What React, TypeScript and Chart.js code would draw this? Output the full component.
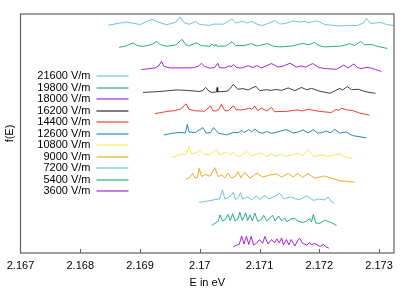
import { useEffect, useRef } from 'react';
import { Chart, registerables } from 'chart.js';

Chart.register(...registerables);

// ---- data (E in eV, f(E) relative to each curve's offset) ----
const fieldLabels = ['3600 V/m', '5400 V/m', '7200 V/m', '9000 V/m', '10800 V/m', '12600 V/m', '14400 V/m', '16200 V/m', '18000 V/m', '19800 V/m', '21600 V/m'];
const offsets = [0, 1, 2, 3, 4, 5, 6, 7, 8, 9, 10];
const lineColors = ['#9400d3', '#009e73', '#56b4e9', '#e69f00', '#f0e442', '#0072b2', '#e51e10', '#000000', '#9400d3', '#009e73', '#56b4e9'];
const xTicks = [2.167, 2.168, 2.169, 2.17, 2.171, 2.172, 2.173];
const xTickLabels = ['2.167', '2.168', '2.169', '2.17', '2.171', '2.172', '2.173'];

const e3600 = [2.17056, 2.17062, 2.17066, 2.17070, 2.17074, 2.17078, 2.17082, 2.17086, 2.17090, 2.17095, 2.17100, 2.17105, 2.17109, 2.17114, 2.17120, 2.17125, 2.17129, 2.17133, 2.17137, 2.17140, 2.17145, 2.17149, 2.17153, 2.17159, 2.17164, 2.17167, 2.17172, 2.17179, 2.17184, 2.17187, 2.17192, 2.17201, 2.17207, 2.17211, 2.17216];
const f3600 = [0.09, 0.18, 0.2, 0.58, 0.22, 0.56, 0.2, 0.56, 0.18, 0.25, 0.42, 0.25, 0.56, 0.22, 0.42, 0.27, 0.45, 0.27, 0.49, 0.18, 0.42, 0.18, 0.42, 0.13, 0.4, 0.48, 0.25, 0.18, 0.29, 0.18, 0.25, 0.11, 0.2, 0.09, 0.04];

const e5400 = [2.17020, 2.17027, 2.17031, 2.17034, 2.17038, 2.17043, 2.17047, 2.17051, 2.17055, 2.17059, 2.17064, 2.17067, 2.17071, 2.17077, 2.17080, 2.17084, 2.17088, 2.17092, 2.17097, 2.17102, 2.17107, 2.17112, 2.17117, 2.17122, 2.17126, 2.17132, 2.17137, 2.17142, 2.17146, 2.17152, 2.17159, 2.17164, 2.17172, 2.17179, 2.17184, 2.17187, 2.17190, 2.17194, 2.17201, 2.17209, 2.17216, 2.17220, 2.17229];
const f5400 = [0.05, 0.18, 0.25, 0.52, 0.25, 0.32, 0.54, 0.27, 0.57, 0.25, 0.34, 0.64, 0.27, 0.61, 0.27, 0.52, 0.25, 0.6, 0.23, 0.29, 0.5, 0.25, 0.38, 0.5, 0.25, 0.47, 0.25, 0.38, 0.21, 0.34, 0.36, 0.25, 0.18, 0.25, 0.36, 0.21, 0.54, 0.16, 0.14, 0.29, 0.21, 0.18, 0.05];

const e7200 = [2.16999, 2.17013, 2.17027, 2.17033, 2.17038, 2.17042, 2.17048, 2.17053, 2.17056, 2.17060, 2.17065, 2.17068, 2.17072, 2.17080, 2.17087, 2.17095, 2.17100, 2.17109, 2.17115, 2.17125, 2.17134, 2.17140, 2.17153, 2.17161, 2.17167, 2.17179, 2.17190, 2.17199, 2.17209, 2.17215, 2.17220, 2.17225];
const f7200 = [0.08, 0.14, 0.21, 0.23, 0.63, 0.23, 0.3, 0.41, 0.52, 0.19, 0.32, 0.51, 0.23, 0.32, 0.19, 0.37, 0.21, 0.39, 0.23, 0.34, 0.48, 0.25, 0.32, 0.23, 0.21, 0.37, 0.17, 0.23, 0.19, 0.32, 0.12, 0.04];

const e9000 = [2.16977, 2.16983, 2.16988, 2.16992, 2.16996, 2.16999, 2.17003, 2.17010, 2.17017, 2.17025, 2.17031, 2.17037, 2.17042, 2.17047, 2.17053, 2.17059, 2.17064, 2.17069, 2.17075, 2.17084, 2.17090, 2.17096, 2.17105, 2.17117, 2.17128, 2.17137, 2.17148, 2.17156, 2.17164, 2.17172, 2.17181, 2.17192, 2.17209, 2.17220, 2.17234, 2.17259];
const f9000 = [0.1, 0.19, 0.38, 0.17, 0.21, 0.6, 0.23, 0.33, 0.24, 0.63, 0.23, 0.3, 0.17, 0.38, 0.17, 0.24, 0.45, 0.17, 0.42, 0.16, 0.28, 0.39, 0.21, 0.3, 0.35, 0.21, 0.38, 0.21, 0.38, 0.19, 0.37, 0.16, 0.26, 0.16, 0.05, -0.02];

const e10800 = [2.16953, 2.16967, 2.16977, 2.16982, 2.16986, 2.16993, 2.17000, 2.17006, 2.17017, 2.17028, 2.17033, 2.17045, 2.17050, 2.17056, 2.17062, 2.17067, 2.17078, 2.17087, 2.17094, 2.17103, 2.17112, 2.17120, 2.17127, 2.17137, 2.17144, 2.17164, 2.17172, 2.17181, 2.17190, 2.17206, 2.17214, 2.17234, 2.17245, 2.17256];
const f10800 = [0.08, 0.22, 0.24, 0.58, 0.23, 0.29, 0.4, 0.23, 0.2, 0.46, 0.2, 0.33, 0.2, 0.31, 0.17, 0.13, 0.35, 0.17, 0.22, 0.29, 0.13, 0.24, 0.15, 0.22, 0.13, 0.27, 0.17, 0.44, 0.13, 0.2, 0.13, 0.24, 0.09, 0.05];

const e12600 = [2.16940, 2.16953, 2.16967, 2.16976, 2.16979, 2.16982, 2.16993, 2.17005, 2.17011, 2.17018, 2.17023, 2.17031, 2.17045, 2.17056, 2.17065, 2.17070, 2.17074, 2.17082, 2.17087, 2.17092, 2.17099, 2.17106, 2.17112, 2.17120, 2.17145, 2.17156, 2.17164, 2.17173, 2.17181, 2.17190, 2.17197, 2.17204, 2.17212, 2.17218, 2.17226, 2.17234, 2.17245, 2.17256, 2.17279];
const f12600 = [0.09, 0.16, 0.2, 0.18, 0.56, 0.22, 0.2, 0.42, 0.17, 0.2, 0.42, 0.17, 0.09, 0.2, 0.2, 0.29, 0.2, 0.33, 0.22, 0.36, 0.2, 0.17, 0.25, 0.16, 0.33, 0.18, 0.22, 0.31, 0.18, 0.33, 0.18, 0.19, 0.27, 0.18, 0.34, 0.18, 0.22, 0.06, -0.04];

const e14400 = [2.16925, 2.16941, 2.16958, 2.16968, 2.16977, 2.16982, 2.16992, 2.17008, 2.17018, 2.17022, 2.17027, 2.17032, 2.17036, 2.17042, 2.17048, 2.17054, 2.17057, 2.17061, 2.17072, 2.17084, 2.17087, 2.17092, 2.17097, 2.17103, 2.17112, 2.17120, 2.17125, 2.17145, 2.17164, 2.17172, 2.17181, 2.17198, 2.17220, 2.17228, 2.17233, 2.17237, 2.17245, 2.17256, 2.17268, 2.17284];
const f14400 = [0.04, 0.12, 0.18, 0.25, 0.48, 0.23, 0.17, 0.15, 0.38, 0.18, 0.16, 0.23, 0.46, 0.17, 0.18, 0.34, 0.38, 0.21, 0.21, 0.29, 0.23, 0.38, 0.17, 0.29, 0.16, 0.32, 0.13, 0.14, 0.21, 0.16, 0.24, 0.15, 0.09, 0.23, 0.18, 0.29, 0.21, 0.18, 0.06, -0.02];

const e16200 = [2.16905, 2.16933, 2.16961, 2.16978, 2.17000, 2.17005, 2.17010, 2.17015, 2.17020, 2.17028, 2.17029, 2.17030, 2.17047, 2.17056, 2.17064, 2.17072, 2.17081, 2.17086, 2.17094, 2.17100, 2.17112, 2.17119, 2.17128, 2.17137, 2.17148, 2.17159, 2.17170, 2.17179, 2.17187, 2.17201, 2.17218, 2.17234, 2.17239, 2.17247, 2.17254, 2.17265, 2.17279, 2.17294];
const f16200 = [-0.01, 0.03, 0.1, 0.08, 0.03, 0.08, 0.21, 0.05, -0.01, 0.01, 0.21, 0.01, 0.05, 0.34, 0.13, 0.16, 0.1, 0.17, 0.26, 0.07, 0.11, 0.08, 0.12, 0.08, 0.19, 0.07, 0.21, 0.11, 0.17, 0.04, -0.05, 0.17, 0.1, 0.25, 0.11, 0.13, 0.01, -0.05];

const e18000 = [2.16902, 2.16925, 2.16931, 2.16936, 2.16940, 2.16950, 2.16989, 2.16998, 2.17003, 2.17008, 2.17017, 2.17025, 2.17030, 2.17033, 2.17042, 2.17049, 2.17052, 2.17056, 2.17062, 2.17070, 2.17081, 2.17089, 2.17096, 2.17103, 2.17120, 2.17131, 2.17140, 2.17151, 2.17162, 2.17170, 2.17177, 2.17189, 2.17199, 2.17212, 2.17229, 2.17241, 2.17248, 2.17258, 2.17264, 2.17270, 2.17279, 2.17286, 2.17294, 2.17304];
const f18000 = [0.01, 0.08, 0.17, 0.37, 0.15, 0.08, 0.09, 0.17, 0.29, 0.15, 0.07, 0.10, 0.29, 0.1, 0.08, 0.18, 0.12, 0.23, 0.1, 0.08, 0.18, 0.1, 0.19, 0.08, 0.28, 0.12, 0.17, 0.29, 0.12, 0.17, 0.12, 0.28, 0.1, 0.05, 0.02, 0.21, 0.08, 0.26, 0.1, 0.05, 0.11, 0.08, 0.01, -0.07];

const e19800 = [2.16865, 2.16876, 2.16888, 2.16896, 2.16905, 2.16920, 2.16928, 2.16933, 2.16944, 2.16960, 2.16970, 2.16977, 2.16983, 2.16995, 2.17002, 2.17017, 2.17020, 2.17025, 2.17027, 2.17029, 2.17043, 2.17054, 2.17060, 2.17075, 2.17086, 2.17095, 2.17114, 2.17122, 2.17134, 2.17154, 2.17173, 2.17182, 2.17192, 2.17199, 2.17209, 2.17226, 2.17238, 2.17251, 2.17259, 2.17269, 2.17276, 2.17287, 2.17298, 2.17314];
const f19800 = [0.0, 0.06, 0.2, 0.08, 0.04, 0.13, 0.27, 0.13, 0.05, 0.11, 0.36, 0.11, 0.08, 0.21, 0.08, 0.05, 0.15, 0.05, 0.14, 0.05, 0.06, 0.25, 0.08, 0.08, 0.17, 0.06, 0.17, 0.06, 0.02, 0.06, 0.18, 0.11, 0.22, 0.08, 0.02, 0.05, 0.06, 0.17, 0.08, 0.27, 0.11, 0.13, 0.04, -0.05];

const e21600 = [2.16847, 2.16863, 2.16878, 2.16900, 2.16913, 2.16920, 2.16930, 2.16945, 2.16960, 2.16967, 2.16973, 2.16982, 2.16993, 2.17000, 2.17017, 2.17023, 2.17030, 2.17040, 2.17054, 2.17060, 2.17072, 2.17080, 2.17087, 2.17097, 2.17105, 2.17117, 2.17125, 2.17134, 2.17144, 2.17156, 2.17167, 2.17176, 2.17182, 2.17189, 2.17197, 2.17209, 2.17234, 2.17264, 2.17274, 2.17279, 2.17286, 2.17294, 2.17303, 2.17313, 2.17330];
const f21600 = [-0.01, 0.07, 0.13, 0.02, 0.18, 0.25, 0.13, 0.01, 0.13, 0.36, 0.11, 0.03, 0.16, 0.02, -0.02, 0.04, 0.04, 0.04, 0.27, 0.09, 0.16, 0.09, 0.16, 0.02, -0.02, 0.09, 0.2, 0.04, 0.07, 0.18, 0.13, 0.16, 0.09, 0.16, 0.18, 0.02, -0.04, -0.02, 0.09, 0.29, 0.07, 0.09, 0.11, 0.02, -0.05];

const energyArrays = [e3600, e5400, e7200, e9000, e10800, e12600, e14400, e16200, e18000, e19800, e21600];
const valueArrays = [f3600, f5400, f7200, f9000, f10800, f12600, f14400, f16200, f18000, f19800, f21600];

const FONT = '"Liberation Sans", Arial, sans-serif';

function withAlpha(hex: string, a: number) {
  const r = parseInt(hex.slice(1, 3), 16);
  const g = parseInt(hex.slice(3, 5), 16);
  const b = parseInt(hex.slice(5, 7), 16);
  return `rgba(${r},${g},${b},${a})`;
}

const decorPlugin = {
  id: 'decor',
  afterDraw(chart: any) {
    const { ctx, chartArea: a, scales } = chart;
    ctx.save();
    // frame
    ctx.strokeStyle = '#606060';
    ctx.lineWidth = 1.2;
    ctx.strokeRect(a.left, a.top, a.right - a.left, a.bottom - a.top);
    // inward tick marks
    ctx.lineWidth = 1;
    xTicks.forEach((v) => {
      const px = Math.round(scales.x.getPixelForValue(v)) + 0.5;
      if (px > a.left + 2 && px < a.right - 2) {
        ctx.beginPath();
        ctx.moveTo(px, a.bottom);
        ctx.lineTo(px, a.bottom - 4);
        ctx.stroke();
      }
    });
    // legend
    ctx.font = '11px ' + FONT;
    ctx.textAlign = 'right';
    ctx.textBaseline = 'middle';
    for (let i = fieldLabels.length - 1; i >= 0; i--) {
      const row = fieldLabels.length - 1 - i;
      const y = a.top + 62 + row * 11.53;
      ctx.fillStyle = '#000000';
      ctx.fillText(fieldLabels[i], a.left + 70, y);
      ctx.strokeStyle = lineColors[i];
      ctx.lineWidth = 1;
      ctx.beginPath();
      ctx.moveTo(a.left + 76, Math.round(y));
      ctx.lineTo(a.left + 108, Math.round(y));
      ctx.stroke();
    }
    // axis titles
    ctx.fillStyle = '#000000';
    ctx.textAlign = 'center';
    ctx.textBaseline = 'middle';
    ctx.fillText('E in eV', (a.left + a.right) / 2, 283);
    ctx.translate(10, (a.top + a.bottom) / 2);
    ctx.rotate(-Math.PI / 2);
    ctx.fillText('f(E)', 0, 0);
    ctx.restore();
  },
};

export default function App() {
  const ref = useRef<HTMLCanvasElement>(null);
  useEffect(() => {
    document.body.style.margin = '0';
    const canvas = ref.current!;
    const datasets = energyArrays.map((es, i) => ({
      label: fieldLabels[i],
      data: es.map((e, j) => ({ x: e, y: valueArrays[i][j] + offsets[i] })),
      borderColor: withAlpha(lineColors[i], i === 7 ? 0.75 : 0.85),
      backgroundColor: lineColors[i],
      borderWidth: 1,
      pointRadius: 0,
      tension: 0,
      fill: false,
    }));
    const chart = new Chart(canvas, {
      type: 'line',
      data: { datasets },
      options: {
        animation: false,
        responsive: false,
        devicePixelRatio: 1,
        layout: { padding: { left: 20.5, top: 14, right: 21, bottom: 0 } },
        plugins: { legend: { display: false }, tooltip: { enabled: false } },
        scales: {
          x: {
            type: 'linear',
            min: 2.167,
            max: 2.17325,
            grid: { display: false, drawTicks: false },
            border: { display: false },
            ticks: {
              color: '#000000',
              font: { family: FONT, size: 11 },
              padding: 6,
              maxRotation: 0,
              callback: (v: any) => {
                const k = xTicks.findIndex((t) => Math.abs(t - v) < 1e-7);
                return k >= 0 ? xTickLabels[k] : '';
              },
            },
            afterBuildTicks: (scale: any) => {
              scale.ticks = xTicks.map((v) => ({ value: v }));
            },
            afterFit: (scale: any) => {
              scale.height = 38;
            },
          },
          y: {
            type: 'linear',
            display: false,
            min: -0.18,
            max: 10.49,
          },
        },
      },
      plugins: [decorPlugin],
    } as any);
    return () => chart.destroy();
  }, []);
  return (
    <div style={{ width: 415, height: 291 }}>
      <canvas ref={ref} width={415} height={291} style={{ display: 'block' }} />
    </div>
  );
}
